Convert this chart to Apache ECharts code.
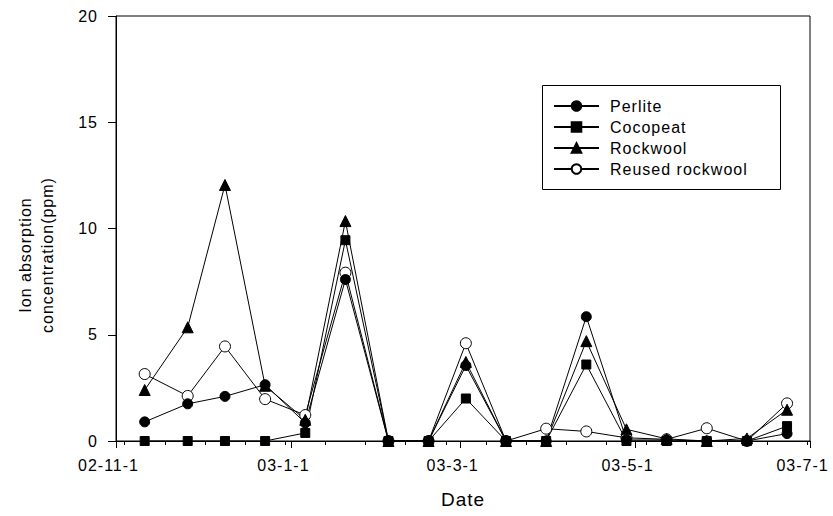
<!DOCTYPE html>
<html>
<head>
<meta charset="utf-8">
<script src="https://cdn.jsdelivr.net/npm/echarts@6/dist/echarts.min.js"></script>
<style>
  html, body { margin: 0; padding: 0; background: #fff; }
  #chart { width: 833px; height: 516px; }
  /* slightly tracked lettering, as in the printed figure */
  #chart svg text { letter-spacing: 1px; }
</style>
</head>
<body>
<div id="chart"></div>
<script>
// Sampling dates (every two weeks)
const sampleDates = [
  '2002-11-11', '2002-11-26', '2002-12-09', '2002-12-23', '2003-01-06',
  '2003-01-20', '2003-02-04', '2003-02-18', '2003-03-03', '2003-03-17',
  '2003-03-31', '2003-04-14', '2003-04-28', '2003-05-12', '2003-05-26',
  '2003-06-09', '2003-06-23'
];

// Ion absorption concentration (ppm) per substrate
const perlite        = [0.9, 1.75, 2.1, 2.65, 0.85, 7.6, 0, 0, 3.55, 0, 0, 5.85, 0.05, 0.05, 0, 0, 0.35];
const cocopeat       = [0, 0, 0, 0, 0.38, 9.45, 0, 0, 2.0, 0, 0, 3.6, 0, 0, 0, 0, 0.7];
const rockwool       = [2.4, 5.35, 12.05, 2.6, 1.0, 10.35, 0, 0, 3.72, 0, 0, 4.7, 0.55, 0.1, 0, 0.12, 1.47];
const reusedRockwool = [3.15, 2.12, 4.45, 1.97, 1.22, 7.92, 0, 0, 4.6, 0, 0.58, 0.45, 0.15, 0.08, 0.6, 0, 1.77];

const seriesNames = ['Perlite', 'Cocopeat', 'Rockwool', 'Reused rockwool'];

// Axis ticks
const majorTickDates = ['2002-11-01', '2003-01-01', '2003-03-01', '2003-05-01', '2003-07-01'];
const minorTickDates = [
  '2002-11-04', '2002-11-18', '2002-12-02', '2002-12-16', '2002-12-30',
  '2003-01-13', '2003-01-27', '2003-02-10', '2003-02-24', '2003-03-10',
  '2003-03-24', '2003-04-07', '2003-04-21', '2003-05-05', '2003-05-19',
  '2003-06-02', '2003-06-16', '2003-06-30'
];
const yTicks = [0, 5, 10, 15, 20];

const FONT = "'Liberation Sans', Arial, sans-serif";
const DAY = 86400000;

function toUTC(s) {
  const p = s.split('-').map(Number);
  return Date.UTC(p[0], p[1] - 1, p[2]);
}
const origin = toUTC(majorTickDates[0]);
// day number counted from the first axis date
function toDay(s) { return Math.round((toUTC(s) - origin) / DAY); }
function fmtDay(v) {
  const d = new Date(origin + Math.round(v) * DAY);
  return String(d.getUTCFullYear() % 100).padStart(2, '0') + '-' +
         (d.getUTCMonth() + 1) + '-' + d.getUTCDate();
}
function pairs(values) {
  return sampleDates.map((s, i) => [toDay(s), values[i]]);
}

const majorDays = majorTickDates.map(toDay);
const minorDays = minorTickDates.map(toDay);
const xMin = majorDays[0];
const xMax = majorDays[majorDays.length - 1];

const markers = {
  'Perlite':         { symbol: 'circle',   size: 10, fill: '#000' },
  'Cocopeat':        { symbol: 'rect',     size: 9,  fill: '#000' },
  'Rockwool':        { symbol: 'triangle', size: 11, fill: '#000' },
  'Reused rockwool': { symbol: 'circle',   size: 11, fill: '#fff' }
};
const valuesByName = {
  'Perlite': perlite,
  'Cocopeat': cocopeat,
  'Rockwool': rockwool,
  'Reused rockwool': reusedRockwool
};
// drawing order (later on top)
const drawOrder = ['Reused rockwool', 'Rockwool', 'Cocopeat', 'Perlite'];

const chart = echarts.init(document.getElementById('chart'), null, { renderer: 'svg' });

chart.setOption({
  animation: false,
  backgroundColor: '#fff',
  textStyle: { fontFamily: FONT, color: '#000' },
  grid: {
    left: 116, right: 23, top: 16, bottom: 75,
    show: true, borderColor: '#000', borderWidth: 1, backgroundColor: 'transparent'
  },
  legend: {
    data: seriesNames,
    orient: 'vertical',
    left: 553, top: 98,
    padding: 0,
    itemWidth: 45, itemHeight: 12, itemGap: 5,
    selectedMode: false,
    textStyle: { fontFamily: FONT, fontSize: 16, color: '#000', padding: [0, 0, 0, 6] }
  },
  graphic: [
    {
      type: 'rect', left: 540, top: 83,
      shape: { width: 238, height: 104 },
      style: { fill: 'none', stroke: '#000', lineWidth: 1 }
    },
    {
      type: 'text', x: 36, y: 255, rotation: Math.PI / 2,
      style: {
        text: 'Ion absorption\nconcentration(ppm)',
        font: '16px ' + FONT, fill: '#000',
        textAlign: 'center', textVerticalAlign: 'middle', lineHeight: 22
      }
    }
  ],
  xAxis: [
    {
      type: 'value', min: xMin, max: xMax,
      name: 'Date', nameLocation: 'middle', nameGap: 49,
      nameTextStyle: { fontFamily: FONT, fontSize: 19, color: '#000' },
      axisLine: { show: true, lineStyle: { color: '#000', width: 1 } },
      axisTick: { show: true, inside: false, length: 7, lineStyle: { color: '#000' },
                  customValues: majorDays },
      axisLabel: { show: true, margin: 16, fontFamily: FONT, fontSize: 16, color: '#000',
                   customValues: majorDays,
                   formatter: v => fmtDay(v), padding: [0, 15, 0, 0] },
      splitLine: { show: false }
    },
    {
      type: 'value', min: xMin, max: xMax, position: 'bottom',
      axisLine: { show: false },
      axisTick: { show: true, inside: false, length: 4, lineStyle: { color: '#000' },
                  customValues: minorDays },
      axisLabel: { show: false },
      splitLine: { show: false }
    }
  ],
  yAxis: {
    type: 'value', min: yTicks[0], max: yTicks[yTicks.length - 1], interval: 5,
    axisLine: { show: true, lineStyle: { color: '#000', width: 1 } },
    axisTick: { show: true, inside: false, length: 8, lineStyle: { color: '#000' } },
    axisLabel: { margin: 18, fontFamily: FONT, fontSize: 16, color: '#000' },
    splitLine: { show: false }
  },
  series: drawOrder.map(name => {
    const m = markers[name];
    return {
      name: name,
      type: 'line',
      xAxisIndex: 0,
      data: pairs(valuesByName[name]),
      symbol: m.symbol,
      symbolSize: m.size,
      showAllSymbol: true,
      lineStyle: { color: '#000', width: 1 },
      itemStyle: { color: m.fill, borderColor: '#000', borderWidth: 1, opacity: 1 },
      emphasis: { disabled: true }
    };
  })
});
</script>
</body>
</html>
